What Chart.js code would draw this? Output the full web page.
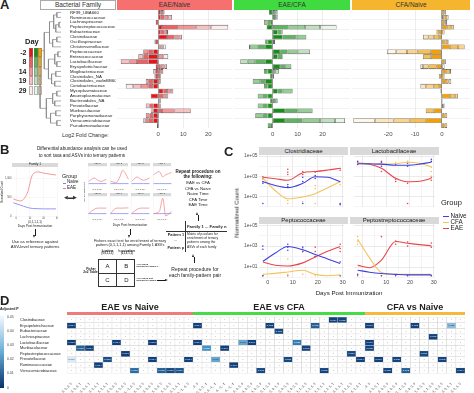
<!DOCTYPE html>
<html>
<head>
<meta charset="utf-8">
<script src="https://cdn.jsdelivr.net/npm/chart.js@4.4.1/dist/chart.umd.min.js"></script>
<style>
  body { margin: 0; background: #fff; }
  #fig { position: relative; width: 474px; height: 393px; overflow: hidden; font-family: "Liberation Sans", Arial, sans-serif; color: #222; }
  .t { position: absolute; white-space: nowrap; line-height: 1.1; }
  .r { position: absolute; box-sizing: border-box; }
  canvas { position: absolute; }
</style>
</head>
<body>
<div id="fig"></div>
<script>
// ---------- panel A : log2 fold change, columns = day -2, 8, 14, 19, 29 ----------
const families = ['RF39_UBA660', 'Ruminococcaceae', 'Lachnospiraceae', 'Peptostreptococcaceae', 'Eubacteriaceae',
  'Clostridiaceae', 'Oscillospiraceae', 'Christensenellaceae', 'Peptococcaceae', 'Enterococcaceae',
  'Lactobacillaceae', 'Erysipelotrichaceae', 'Mogibacteriaceae', 'Clostridiales_NA', 'Clostridiales_vadinBB60',
  'Coriobacteriaceae', 'Mycoplasmataceae', 'Anaeroplasmataceae', 'Bacteroidales_NA', 'Prevotellaceae',
  'Muribaculaceae', 'Porphyromonadaceae', 'Verrucomicrobiaceae', 'Pseudomonadaceae'];
const days = ['-2', '8', '14', '19', '29'];
const dayAlpha = [1, 0.68, 0.45, 0.27, 0.09];

const eaeNaive = [
  [1, 1, 0.5, 0, 0], [1, 1.5, 1.5, 1.5, 0], [-1, 0, 0, 0, 0], [1.5, 6.5, 7, 6, 7],
  [1, 1.5, 1, 0.5, 0], [3.5, 3, 2, 1, 0], [-1, -0.5, 0, 0, 0], [0, 0, 1, 1, 1],
  [-2, -2, -2, 0, 0], [-4, -2, 2, -2, 2], [-4, -4.5, -3, -3.5, 0], [-1, 1, 1.5, 1, 0],
  [-1, 1, 1, -1, 0], [-1, 1, -0.5, 0, 0], [-2, -2, 1, -1, 0], [-2, -2, -3, -3, -3],
  [2, 1.5, 1.5, 1, 0], [-3, 2, 1, 1, 0], [0.5, 0.5, 0, 0, 0], [-2, -1.5, 1, -1.5, 0],
  [-2, 1.5, 5, 6.5, -1], [-2, -1.5, -1.5, 0, 0], [-2, -2, -1, -1, 0], [-0.5, 0, 0, 0, 0]
];
const eaeCfa = [
  [-1.5, 1, 1, 0, 0], [1, 0.5, 0.5, 0, 0], [-1, -1, -1.5, 0, 0], [-2.4, 6.3, 6.7, 6, 6.6],
  [2, 1.5, 0.5, 0, 0], [4, 5, 4.5, 0, 0], [-2, -1, 0.5, 0.5, 0], [-3, -3, -3, -0.5, 0],
  [3, 3, 4, 5, 0], [2, 2, 0, 0, 0], [-3, -4, -3, -3, 0], [3, 2, 2.5, 0, 0],
  [-2, -1.5, 1, 1.5, 0], [-1, 0.5, 0, 0, 0], [-3, -2, -3, 0, 0], [-2, -1.5, 0, 0, 0],
  [2, 2, 4, 0, 0], [-2, -2, -2, 0, 0], [-1, 1, 1, 0, 0], [-2, -2, -2, 0, 0],
  [5, 5, 6, 0, 0], [-2, -2, -3, 0, 0], [5, 7, 7, 6, 4], [-1, -1, 0, 0, 0]
];
const cfaNaive = [
  [1, 0.5, 0, 0, 0], [0.5, 1, 1, 0, 0], [1, 0.5, 0.5, 0, 0], [2, 1.5, 1, 0, 0],
  [-1, -1, 1, 0, 0], [-1, -2, -2, -2, 0], [1, 1, 0.5, 0, 0], [3, 3, 2.5, 0, 0],
  [-4, -5, -4, -4, -3.5], [-4, -3, 0, 0, 0], [1, 0.5, 0, 0, 0], [-2, -3, -2, -1, 1],
  [1.5, 1.5, 0.5, 0, 0], [-1, 1, 0, 0, 0], [1.5, 1, 1, 0, 0], [-1, -2, -3, -2, 0],
  [-0.5, 0, 0, 0, 0], [3, 2, 1, 0, 0], [0.3, 0, 0, 0, 0], [0.5, 0.5, 0, 0, 0],
  [-3, -3, 0, 0, 0], [1, 1, 0, 0, 0], [-6, -6, -6, -7, -8], [1, 1, 0, 0, 0]
];
// dendrogram: [height, left, right], leaves are row indices
const tree = [1.0,
  [0.8,
    [0.55, [0.35, [0.2, 0, 1], [0.25, [0.1, 2, 3], 4]], [0.4, [0.2, 5, 6], 7]],
    [0.6, [0.3, [0.15, 8, 9], [0.2, 10, 11]], [0.45, [0.25, 12, 13], [0.3, 14, 15]]]],
  [0.7, [0.4, [0.2, 16, 17], [0.3, 18, 19]], [0.5, [0.25, 20, 21], [0.2, 22, 23]]]];

// ---------- panel B : schematic example ----------
const famDays = [-2, 3, 8, 12, 16, 20, 25, 29];
const famEae = [460, 410, 600, 1100, 1170, 1140, 1110, 1090];
const famNaive = [360, 300, 240, 210, 205, 200, 200, 200];
const asvDays = [-2, 8, 14, 19, 29];
const asvNaive = [2, 2, 2, 2, 2];
const asvEae = [
  [3, 4.5, 3.5, 3, 4], [3, 2.5, 5, 8, 4], [3, 5, 4, 3.5, 4.5], [6, 7.5, 5, 6, 7],
  [2, 4, 4.5, 4.5, 4.5], [2, 4.5, 4.5, 4.5, 4.6], [2, 4, 4.5, 4.5, 4.5], [2, 3, 9, 1, 3]
];

// ---------- panel C : normalized counts (smoothed curves + samples) ----------
const groups = ['Naive', 'CFA', 'EAE'];
const groupColors = ['#3f3fe0', '#f2c45a', '#e8464b'];
const curveDays = [-2, 3, 8, 14, 19, 24, 29];
const clostNaive = [290, 120, 75, 200, 900, 800, 290];
const clostCfa = [660, 37, 6, 9, 19, 75, 290];
const clostEae = [800, 570, 400, 2300, 3000, 4200, 6300];
const lactoNaive = [17800, 17000, 16000, 12600, 12600, 16000, 25000];
const lactoCfa = [17800, 17000, 16000, 17800, 25000, 20000, 9000];
const lactoEae = [20000, 16000, 6300, 630, 290, 320, 630];
const peptoNaive = [36, 220, 930, 450, 155, 60, 22];
const peptoCfa = [2, 2.5, 3.4, 5, 2, 1.5, 1.8];
const peptoEae = [30, 15, 12.6, 25, 93, 316, 930];
const strepNaive = [5, 3.2, 2.4, 2, 1.8, 1.8, 1.8];
const strepCfa = [4600, 75, 3, 2, 2, 2, 2];
const strepEae = [14.5, 8.7, 46, 2750, 1900, 1400, 1070];

const clostNaivePts = [[-2, 300], [-2, 200], [-2, 2], [8, 150], [8, 90], [14, 800], [14, 300], [14, 2], [19, 1200], [19, 600], [29, 2], [29, 1.5]];
const clostCfaPts = [[-2, 500], [8, 4], [8, 2], [14, 3], [19, 120], [19, 60], [19, 2], [29, 300], [29, 150]];
const clostEaePts = [[-2, 900], [-2, 600], [8, 5000], [8, 2500], [8, 1500], [14, 3000], [14, 1500], [19, 2500], [29, 6000], [29, 4000]];
const lactoNaivePts = [[-2, 30000], [-2, 15000], [8, 25000], [8, 10000], [14, 15000], [19, 20000], [19, 10000], [29, 50000], [29, 30000]];
const lactoCfaPts = [[-2, 20000], [8, 15000], [14, 25000], [19, 30000], [29, 8000], [29, 3000], [29, 1000]];
const lactoEaePts = [[-2, 25000], [8, 3000], [8, 30000], [14, 500], [14, 300], [19, 200], [19, 2], [29, 800], [29, 400]];
const peptoNaivePts = [[-2, 1000], [-2, 500], [-2, 1.5], [8, 1500], [8, 800], [8, 400], [14, 800], [14, 300], [19, 100], [29, 30], [29, 1.5]];
const peptoCfaPts = [[-2, 1.5], [8, 60], [8, 2], [14, 300], [14, 2], [19, 1.5], [29, 1.5]];
const peptoEaePts = [[-2, 1.5], [8, 1.5], [14, 500], [19, 800], [19, 300], [19, 100], [29, 1500], [29, 600], [29, 300]];
const strepNaivePts = [[-2, 2], [8, 1.5], [14, 1.5], [19, 1.5], [29, 1.5]];
const strepCfaPts = [[-2, 8000], [-2, 3000], [-2, 1500], [8, 1.5], [29, 1.5]];
const strepEaePts = [[-2, 1.5], [8, 8000], [14, 3000], [14, 1500], [19, 2500], [19, 1000], [29, 2000], [29, 800]];
const logLabels = { 10: '1e+01', 1000: '1e+03', 100000: '1e+05' };

// ---------- panel D : adjusted p of pattern enrichment ----------
const dFamilies = ['Clostridiaceae', 'Erysipelotrichaceae', 'Eubacteriaceae', 'Lachnospiraceae', 'Lactobacillaceae',
  'Muribaculaceae', 'Peptostreptococcaceae', 'Prevotellaceae', 'Ruminococcaceae', 'Verrucomicrobiaceae'];
const colsEaeNaive = ['0, 0, 0, 0, 0', '0, 0, 0, 0, 1', '0, 0, 0, 1, 1', '0, 0, 1, 1, 1', '0, 1, 1, 1, 1',
  '-1, 0, 0, 0, 0', '-1, -1, 0, 0, 0', '-1, -1, -1, 0, 0', '0, -1, 0, 0, 0', '1, 0, 0, 0, 0',
  '1, 1, 0, 0, 0', '1, 1, 1, 0, 0', '-1, 0, 1, 1, 1', '1, 0, -1, -1, 0'];
const colsEaeCfa = ['0, 0, 0, 0, 0', '0, 0, 0, 0, -1', '0, 0, 0, -1, -1', '0, 0, -1, -1, -1', '0, -1, -1, -1, -1',
  '-1, 0, 0, 0, 0', '-1, -1, 0, 0, 0', '0, 1, 0, 0, 0', '0, 0, 1, 0, 0', '0, 0, 0, 1, 0',
  '1, 0, 0, 0, 0', '1, 1, 0, 0, 0', '1, 1, 1, 0, 0', '1, 1, 1, 1, 0', '1, 1, 1, 1, 1',
  '0, 1, 1, 1, 1', '0, 0, 1, 1, 1', '-1, 0, 1, 0, 0', '-1, -1, 1, 0, 1'];
const colsCfaNaive = ['0, 0, 0, 0, 0', '0, 0, 0, 0, 1', '-1, 0, 0, 0, 0', '0, -1, 0, 0, 0', '0, 0, -1, 0, 0',
  '1, 0, 0, 0, 0', '1, 1, 0, 0, 0', '0, 1, 1, 0, 0', '-1, -1, 0, 0, 0', '0, 0, 0, 1, 1', '-1, 0, 0, 1, 0'];
// [row, column, adjusted p]; all other cells are 1
const sigEaeNaive = [[1, 0, 0.004], [4, 0, 0.003], [4, 5, 0.004], [4, 9, 0.003], [5, 1, 0.012], [5, 2, 0.004],
  [6, 6, 0.003], [7, 0, 0.046], [7, 4, 0.008], [7, 9, 0.004], [7, 13, 0.004], [8, 3, 0.004],
  [9, 7, 0.015], [9, 10, 0.012], [9, 11, 0.006], [9, 12, 0.009]];
const sigEaeCfa = [[0, 15, 0.004], [0, 16, 0.005], [1, 0, 0.004], [1, 8, 0.005], [1, 13, 0.012], [2, 9, 0.006],
  [4, 0, 0.004], [4, 5, 0.03], [4, 6, 0.004], [4, 11, 0.02], [5, 1, 0.025], [5, 3, 0.004], [5, 12, 0.005],
  [6, 17, 0.006], [7, 2, 0.03], [7, 10, 0.006], [7, 18, 0.004], [8, 4, 0.004], [9, 7, 0.006], [9, 14, 0.005]];
const sigCfaNaive = [[1, 0, 0.004], [1, 5, 0.005], [1, 9, 0.035], [3, 7, 0.005], [4, 0, 0.004], [5, 0, 0.005],
  [6, 6, 0.006], [7, 1, 0.004], [7, 3, 0.005], [7, 8, 0.005], [9, 2, 0.005], [9, 4, 0.012], [9, 10, 0.004]];
const pTicks = ['0.05', '0.04', '0.03', '0.02', '0.01', '0'];

// ================= helpers =================
Chart.defaults.font.family = '"Liberation Sans", Arial, sans-serif';
Chart.defaults.color = '#4d4d4d';
Chart.defaults.animation = false;
Chart.defaults.responsive = false;
Chart.defaults.maintainAspectRatio = false;
Chart.defaults.devicePixelRatio = 1;
Chart.defaults.events = [];
Chart.defaults.plugins.legend.display = false;
Chart.defaults.plugins.tooltip.enabled = false;

const fig = document.getElementById('fig');

function txt(s, x, y, size, o = {}) {
  const d = document.createElement('div');
  d.className = 't';
  d.innerHTML = s;
  d.style.left = x + 'px';
  d.style.top = y + 'px';
  d.style.fontSize = size + 'px';
  if (o.bold) d.style.fontWeight = 'bold';
  if (o.color) d.style.color = o.color;
  if (o.center) { d.style.transform = 'translateX(-50%)'; d.style.textAlign = 'center'; }
  if (o.right) d.style.transform = 'translateX(-100%)';
  if (o.rot) d.style.transform = 'translate(-50%,-50%) rotate(-90deg)';
  fig.appendChild(d);
  return d;
}

function rect(x, y, w, h, bg, css = {}) {
  const d = document.createElement('div');
  d.className = 'r';
  Object.assign(d.style, { left: x + 'px', top: y + 'px', width: w + 'px', height: h + 'px', background: bg }, css);
  fig.appendChild(d);
  return d;
}

function cv(x, y, w, h) {
  const c = document.createElement('canvas');
  c.width = Math.round(w);
  c.height = Math.round(h);
  c.style.left = x + 'px';
  c.style.top = y + 'px';
  fig.appendChild(c);
  return c;
}

// axis aligned arrow with a small head
function arrow(x1, y1, x2, y2) {
  const c = '#1a1a1a';
  if (x1 === x2) {
    const down = y2 > y1;
    rect(x1 - 0.4, down ? y1 : y2 + 3, 0.8, Math.abs(y2 - y1) - 3, c);
    rect(x1 - 1.8, down ? y2 - 3.2 : y2, 0, 0, 'none', {
      borderLeft: '1.8px solid transparent', borderRight: '1.8px solid transparent',
      [down ? 'borderTop' : 'borderBottom']: '3.2px solid ' + c
    });
  } else {
    rect(x1, y1 - 0.4, x2 - x1 - 3, 0.8, c);
    rect(x2 - 3.2, y1 - 1.8, 0, 0, 'none', {
      borderTop: '1.8px solid transparent', borderBottom: '1.8px solid transparent', borderLeft: '3.2px solid ' + c
    });
  }
}

// ================= panel A =================
txt('A', 0, -2, 13, { bold: true });
rect(40, 0, 76, 10, '#fff', { border: '0.6px solid #aaa' });
txt('Bacterial Family', 78, 1.3, 6.5, { center: true, color: '#333' });
rect(117, 0, 115, 10, '#f5706f');
txt('EAE/Naive', 174.5, 1.3, 6.5, { center: true, color: '#333' });
rect(234, 0, 116, 10, '#40db40');
txt('EAE/CFA', 292, 1.3, 6.5, { center: true, color: '#333' });
rect(352, 0, 118, 10, '#f6b52e');
txt('CFA/Naive', 411, 1.3, 6.5, { center: true, color: '#333' });

const panelRgb = ['232,20,25', '20,145,20', '245,160,0'];

function foldPanel(x, w, rows, rgb, min, max) {
  const c = cv(x, 10, w, 129);
  new Chart(c, {
    type: 'bar',
    data: {
      labels: families,
      datasets: days.map((d, k) => ({
        label: d,
        data: rows.map(r => r[k]),
        backgroundColor: `rgba(${rgb},${dayAlpha[k]})`,
        borderColor: 'rgba(50,50,50,0.85)',
        borderWidth: 0.55,
        borderSkipped: false,
        barPercentage: 0.95,
        categoryPercentage: 1
      }))
    },
    options: {
      indexAxis: 'y',
      layout: { padding: 0 },
      scales: {
        x: {
          stacked: true, min, max,
          afterBuildTicks: s => { s.ticks = s.ticks.filter(t => t.value % 10 === 0); },
          ticks: { stepSize: 10, font: { size: 6 }, color: '#4d4d4d', padding: 2.5 },
          grid: { drawTicks: false, lineWidth: 0.6, color: ctx => (ctx.tick && ctx.tick.value === 0 ? '#666' : '#e1e1e1') },
          border: { display: false },
          afterFit: s => { s.height = 11; }
        },
        y: {
          stacked: true,
          ticks: { display: false },
          grid: { drawTicks: false, lineWidth: 0.5, color: ctx => (ctx.index % 2 === 0 ? '#e6e6e6' : 'rgba(0,0,0,0)') },
          border: { display: false },
          afterFit: s => { s.width = 0; }
        }
      }
    }
  });
}
foldPanel(117, 115, eaeNaive, panelRgb[0], -16.5, 29.5);
foldPanel(234, 116, eaeCfa, panelRgb[1], -15.5, 31);
foldPanel(352, 118, cfaNaive, panelRgb[2], -33.5, 10.5);
txt('Log2 Fold Change:', 62, 132.3, 5.5, { color: '#333' });

// dendrogram with family labels
const treePts = [];
function walk(n) {
  if (typeof n === 'number') return { y: n, h: 0 };
  const [h, a, b] = n;
  const l = walk(a), r = walk(b);
  treePts.push({ x: l.h, y: l.y }, { x: h, y: l.y }, { x: h, y: r.y }, { x: r.h, y: r.y }, { x: NaN, y: NaN });
  return { y: (l.y + r.y) / 2, h };
}
const treeRoot = walk(tree);
treePts.push({ x: treeRoot.h, y: treeRoot.y }, { x: treeRoot.h + 0.05, y: treeRoot.y });

new Chart(cv(38, 10, 78, 129), {
  type: 'scatter',
  data: { datasets: [{ data: treePts, showLine: true, spanGaps: false, borderColor: '#8a8a8a', borderWidth: 0.7, pointRadius: 0 }] },
  options: {
    layout: { padding: { bottom: 11 } },
    scales: {
      x: { display: false, reverse: true, min: 0, max: 1.1 },
      y: {
        position: 'right', reverse: true, min: -0.5, max: 23.5,
        afterBuildTicks: s => { s.ticks = families.map((f, i) => ({ value: i })); },
        ticks: { autoSkip: false, callback: v => families[v], font: { size: 4.3 }, color: '#222', padding: 1 },
        grid: { display: false },
        border: { display: false },
        afterFit: s => { s.width = 55; s.paddingTop = 0; s.paddingBottom = 0; }
      }
    }
  }
});

// day legend
txt('Day', 25, 37.5, 7.5, { bold: true });
days.forEach((d, k) => {
  txt(d, 26.5, 49 + k * 9.4, 7, { bold: true, right: true });
  panelRgb.forEach((rgb, j) => rect(29 + j * 4.5, 48 + k * 9.4, 4.4, 9.2, `rgba(${rgb},${dayAlpha[k]})`,
    { border: '0.3px solid rgba(120,120,120,0.5)' }));
});

// ================= panel B =================
txt('B', 0, 143, 13, { bold: true });
txt('Differential abundance analysis can be used', 82, 146, 4.6, { center: true });
txt('to sort taxa and ASVs into ternary patterns', 82, 152.5, 4.6, { center: true });

rect(12, 162.5, 46, 4, '#d9d9d9');
txt('Family 1', 35, 162.5, 3.2, { center: true });
new Chart(cv(4, 166.5, 54, 53.5), {
  type: 'scatter',
  data: {
    datasets: [
      { data: famDays.map((d, i) => ({ x: d, y: famEae[i] })), showLine: true, borderColor: '#f08080', borderWidth: 0.8, pointRadius: 0, cubicInterpolationMode: 'monotone' },
      { data: famDays.map((d, i) => ({ x: d, y: famNaive[i] })), showLine: true, borderColor: '#7d7df0', borderWidth: 0.8, pointRadius: 0, cubicInterpolationMode: 'monotone' }
    ]
  },
  options: {
    scales: {
      x: { min: -3, max: 30.5, afterBuildTicks: s => { s.ticks = [0, 10, 20, 30].map(v => ({ value: v })); },
        ticks: { font: { size: 2.6 }, padding: 0.5, maxRotation: 0 }, grid: { color: '#eeeeee', lineWidth: 0.4, drawTicks: false },
        border: { display: false }, afterFit: s => { s.height = 4.5; s.paddingLeft = 0; s.paddingRight = 0; } },
      y: { min: 0, max: 1300, afterBuildTicks: s => { s.ticks = [0, 500, 1000].map(v => ({ value: v })); },
        ticks: { font: { size: 2.6 }, padding: 0.5 }, grid: { color: '#eeeeee', lineWidth: 0.4, drawTicks: false },
        border: { display: false }, afterFit: s => { s.width = 8; s.paddingTop = 0; s.paddingBottom = 0; } }
    }
  }
});
txt('Normalized Count', 3, 192, 2.7, { rot: true });
txt('(0,1,1,1,1)', 35, 220.5, 3, { center: true });
txt('Days Post Immunization', 35, 224.5, 3.2, { center: true });
arrow(35, 229, 35, 238.5);
txt('Use as reference against', 35, 240, 4.2, { center: true });
txt('ASV-level ternary patterns', 35, 245, 4.2, { center: true });

txt('Group', 62, 172.5, 5.5);
rect(62.5, 182.5, 3.5, 0.8, '#7d7df0');
txt('Naive', 67, 180.3, 4.5);
rect(62.5, 187.8, 3.5, 0.8, '#f08080');
txt('EAE', 67, 185.6, 4.5);
txt('◀▬▶', 64, 195, 5, { color: '#333' });

const asvX = [88, 109.5, 131, 152.5];
const asvY = [162.5, 192.5];
asvEae.forEach((vals, i) => {
  const x = asvX[i % 4], y = asvY[Math.floor(i / 4)];
  rect(x, y, 18.5, 3.5, '#d9d9d9');
  txt('ASV ' + (i + 1), x + 9.25, y + 0.3, 2.4, { center: true });
  new Chart(cv(x, y + 3.5, 18.5, 22), {
    type: 'scatter',
    data: {
      datasets: [
        { data: asvDays.map((d, k) => ({ x: d, y: vals[k] })), showLine: true, borderColor: '#f08080', borderWidth: 0.7, pointRadius: 0, cubicInterpolationMode: 'monotone' },
        { data: asvDays.map((d, k) => ({ x: d, y: asvNaive[k] })), showLine: true, borderColor: '#7d7df0', borderWidth: 0.7, pointRadius: 0 }
      ]
    },
    options: {
      scales: {
        x: { min: -3, max: 30, ticks: { display: false }, grid: { color: '#ececec', lineWidth: 0.4, drawTicks: false }, border: { display: false }, afterFit: s => { s.height = 0; } },
        y: { min: 0, max: 10, ticks: { display: false }, grid: { color: '#ececec', lineWidth: 0.4, drawTicks: false }, border: { display: false }, afterFit: s => { s.width = 0; } }
      }
    }
  });
  txt('(0,1,1,1,1)', x + 9.25, y + 25.8, 2.2, { center: true, color: '#444' });
});
txt('Normalized Count', 85, 192, 2.4, { rot: true });
txt('Days Post Immunization', 130, 223.5, 3.2, { center: true });
arrow(130, 228.5, 130, 238);
txt('Fishers exact test for enrichment of ternary', 130, 238.5, 3.8, { center: true });
txt('pattern (0,1,1,1,1) among Family 1 ASVs', 130, 243, 3.8, { center: true });

// Fisher 2x2 table
txt('Is pattern<br>(0,1,1,1,1)', 107.5, 250.5, 2.6, { center: true, bold: true });
txt('Is not pattern<br>(0,1,1,1,1)', 126.8, 250.5, 2.6, { center: true, bold: true });
rect(98.3, 258.7, 36.7, 28.6, '#fff', { border: '0.7px solid #333' });
rect(116.3, 258.7, 0.7, 28.6, '#333');
rect(98.3, 272.6, 36.7, 0.7, '#333');
txt('A', 107.5, 262.8, 6, { center: true });
txt('B', 126.3, 262.8, 6, { center: true });
txt('C', 107.5, 276.8, 6, { center: true });
txt('D', 126.3, 276.8, 6, { center: true });
txt('Fisher<br>2x2 Table:', 91, 267.5, 3.2, { center: true, bold: true });
txt('ASV does<br>belong to Family 1', 136.5, 263.5, 2.5, { bold: true });
txt('ASV does not<br>belong to Family 1', 136.5, 277.5, 2.5, { bold: true });
arrow(157, 280.7, 168.5, 280.7);
txt('Repeat procedure for', 195, 267, 5, { center: true });
txt('each family-pattern pair', 195, 273, 5, { center: true });

// right column of B
txt('Repeat procedure on', 198, 169.5, 4.5, { center: true, bold: true });
txt('the following:', 198, 175, 4.5, { center: true, bold: true });
['EAE vs CFA', 'CFA vs Naive', 'Naive Time', 'CFA Time', 'EAE Time'].forEach((s, i) => {
  txt(s, 198, 181 + i * 5.6, 4.3, { center: true });
});
arrow(198, 221, 198, 211.5);
txt('Family 1 ... Family n', 187, 224.5, 4.2, { bold: true });
rect(166, 231, 61, 0.7, '#333');
rect(185, 221, 0.7, 31, '#333');
txt('Pattern 1', 184, 232.8, 3.8, { bold: true, right: true });
txt('...', 174, 238.5, 3.5);
txt('Pattern p', 184, 245.5, 3.8, { bold: true, right: true });
['Matrix of p-values for', 'enrichment of ternary', 'patterns among the', 'ASVs of each family'].forEach((s, i) => {
  txt(s, 187, 232.5 + i * 4.4, 3.3);
});
arrow(194, 263, 194, 253.5);

// ================= panel C =================
txt('C', 224, 144.5, 13, { bold: true });

function facet(px, py, ph, title, lines, pts, showY, showX) {
  const pw = 89;
  rect(px, py - 7.5, pw, 7.5, '#d9d9d9');
  txt(title, px + pw / 2, py - 7, 6, { center: true, color: '#1a1a1a' });
  const yw = showY ? 21 : 0, xh = showX ? 10 : 0;
  const c = cv(px - yw, py - 4, pw + yw, ph + xh + 4);
  const ds = [];
  lines.forEach((vals, g) => ds.push({
    data: curveDays.map((d, i) => ({ x: d, y: vals[i] })), showLine: true,
    borderColor: groupColors[g], borderWidth: 1.1, pointRadius: 0, cubicInterpolationMode: 'monotone'
  }));
  pts.forEach((p, g) => ds.push({
    data: p.map(([d, v]) => ({ x: d, y: v })), showLine: false,
    pointRadius: 0.8, pointBackgroundColor: groupColors[g], pointBorderWidth: 0
  }));
  const gridCol = major => ctx => (ctx.tick && major(ctx.tick.value) ? '#dcdcdc' : '#eeeeee');
  new Chart(c, {
    type: 'scatter',
    data: { datasets: ds },
    options: {
      layout: { padding: { top: 4 } },
      scales: {
        x: {
          type: 'linear', min: -3.55, max: 30.55,
          afterBuildTicks: s => { s.ticks = [0, 5, 10, 15, 20, 25, 30].map(v => ({ value: v })); },
          ticks: { display: showX, autoSkip: false, maxRotation: 0, padding: 1.5, font: { size: 5.5 }, color: '#4d4d4d', callback: v => (v % 10 === 0 ? String(v) : '') },
          grid: { drawTicks: false, lineWidth: 0.6, color: gridCol(v => v % 10 === 0) },
          border: { display: false },
          afterFit: s => { s.height = xh; s.paddingLeft = 0; s.paddingRight = 0; }
        },
        y: {
          type: 'logarithmic', min: 0.9, max: 1.3e5,
          afterBuildTicks: s => { s.ticks = [1, 10, 100, 1e3, 1e4, 1e5].map(v => ({ value: v })); },
          ticks: { display: showY, autoSkip: false, padding: 1.5, font: { size: 4.8 }, color: '#4d4d4d', callback: v => logLabels[v] || '' },
          grid: { drawTicks: false, lineWidth: 0.6, color: gridCol(v => v in logLabels) },
          border: { display: false },
          afterFit: s => { s.width = yw; s.paddingTop = 0; s.paddingBottom = 0; }
        }
      }
    }
  });
}
facet(259, 154.5, 55.5, 'Clostridiaceae', [clostNaive, clostCfa, clostEae], [clostNaivePts, clostCfaPts, clostEaePts], true, false);
facet(349.5, 154.5, 55.5, 'Lactobacillaceae', [lactoNaive, lactoCfa, lactoEae], [lactoNaivePts, lactoCfaPts, lactoEaePts], false, false);
facet(259, 224, 54, 'Peptococcaceae', [peptoNaive, peptoCfa, peptoEae], [peptoNaivePts, peptoCfaPts, peptoEaePts], true, true);
facet(349.5, 224, 54, 'Peptostreptococcaceae', [strepNaive, strepCfa, strepEae], [strepNaivePts, strepCfaPts, strepEaePts], false, true);
txt('Normalized Count', 237, 213, 6.2, { rot: true, color: '#222' });
txt('Days Post Immunization', 349, 289.5, 6.2, { center: true, color: '#222' });
txt('Group', 441, 199, 7.5);
groups.forEach((g, i) => {
  rect(442.5, 215.7 + i * 6.3, 6, 1, groupColors[i]);
  txt(g, 450.5, 212.5 + i * 6.3, 6.3);
});

// ================= panel D =================
txt('D', 0, 293.5, 13, { bold: true });
txt('Adjusted P', 0, 308.3, 3.6, { bold: true });
rect(0, 315, 3.5, 73, 'linear-gradient(to bottom, #f7fbff, #6aaed6 50%, #08306b)');
pTicks.forEach((p, i) => txt(p, 7, 315.5 + i * 14.2, 3.5, { color: '#444' }));

function pColor(p) {
  if (p >= 0.05) return '#ffffff';
  const t = p / 0.05;
  const a = [8, 48, 107], m = [66, 146, 198], b = [247, 251, 255];
  const [c1, c2, u] = t < 0.5 ? [a, m, t / 0.5] : [m, b, (t - 0.5) / 0.5];
  return `rgb(${c1.map((v, i) => Math.round(v + (c2[i] - v) * u)).join(',')})`;
}

const cellText = {
  id: 'cellText',
  afterDatasetsDraw(chart) {
    const ctx = chart.ctx;
    ctx.save();
    ctx.textAlign = 'center';
    ctx.textBaseline = 'middle';
    chart.data.datasets.forEach((ds, i) => {
      chart.getDatasetMeta(i).data.forEach((bar, j) => {
        const p = ds.pvals[j], cy = (bar.y + bar.base) / 2;
        if (p < 0.05) {
          ctx.fillStyle = p < 0.03 ? '#ffffff' : '#333333';
          ctx.font = '2.5px "Liberation Sans"';
          ctx.fillText(p.toFixed(3), bar.x, cy);
        } else {
          ctx.fillStyle = '#9a9a9a';
          ctx.font = '2.2px "Liberation Sans"';
          ctx.fillText('1', bar.x, cy);
        }
      });
    });
    ctx.restore();
  }
};

function heat(x, w, cols, sig, showY) {
  const grid = dFamilies.map(() => cols.map(() => 1));
  sig.forEach(([r, c, p]) => { grid[r][c] = p; });
  new Chart(cv(x, 316.5, w, 76.5), {
    type: 'bar',
    data: {
      labels: cols,
      datasets: dFamilies.map((f, r) => ({
        label: f,
        data: cols.map(() => [r - 0.5, r + 0.5]),
        pvals: grid[r],
        backgroundColor: grid[r].map(pColor),
        borderColor: '#cfcfcf', borderWidth: 0.5, borderSkipped: false,
        barPercentage: 1, categoryPercentage: 1, grouped: false
      }))
    },
    options: {
      layout: { padding: 0 },
      scales: {
        x: {
          ticks: { autoSkip: false, maxRotation: 45, minRotation: 45, font: { size: 3.3 }, color: '#333', padding: 0.5 },
          grid: { display: false }, border: { display: false },
          afterFit: s => { s.height = 20.5; s.paddingLeft = 0; s.paddingRight = 0; }
        },
        y: {
          display: showY, reverse: true, min: -0.5, max: 9.5,
          afterBuildTicks: s => { s.ticks = dFamilies.map((f, i) => ({ value: i })); },
          ticks: { autoSkip: false, callback: v => dFamilies[v], font: { size: 3.9 }, color: '#222', crossAlign: 'far', padding: 2 },
          grid: { display: false }, border: { display: false },
          afterFit: s => { s.width = showY ? 47 : 0; s.paddingTop = 0; s.paddingBottom = 0; }
        }
      }
    },
    plugins: [cellText]
  });
}
heat(20, 173, colsEaeNaive, sigEaeNaive, true);
heat(193, 172, colsEaeCfa, sigEaeCfa, false);
heat(365, 100, colsCfaNaive, sigCfaNaive, false);

txt('EAE vs Naive', 130, 302.5, 9, { center: true, bold: true });
rect(67, 312.3, 126, 3.2, '#f07a7a');
txt('EAE vs CFA', 279, 302.5, 9, { center: true, bold: true });
rect(193, 312.3, 172, 3.2, '#45dc45');
txt('CFA vs Naive', 415, 302.5, 9, { center: true, bold: true });
rect(365, 312.3, 100, 3.2, '#f6b940');
</script>
</body>
</html>
